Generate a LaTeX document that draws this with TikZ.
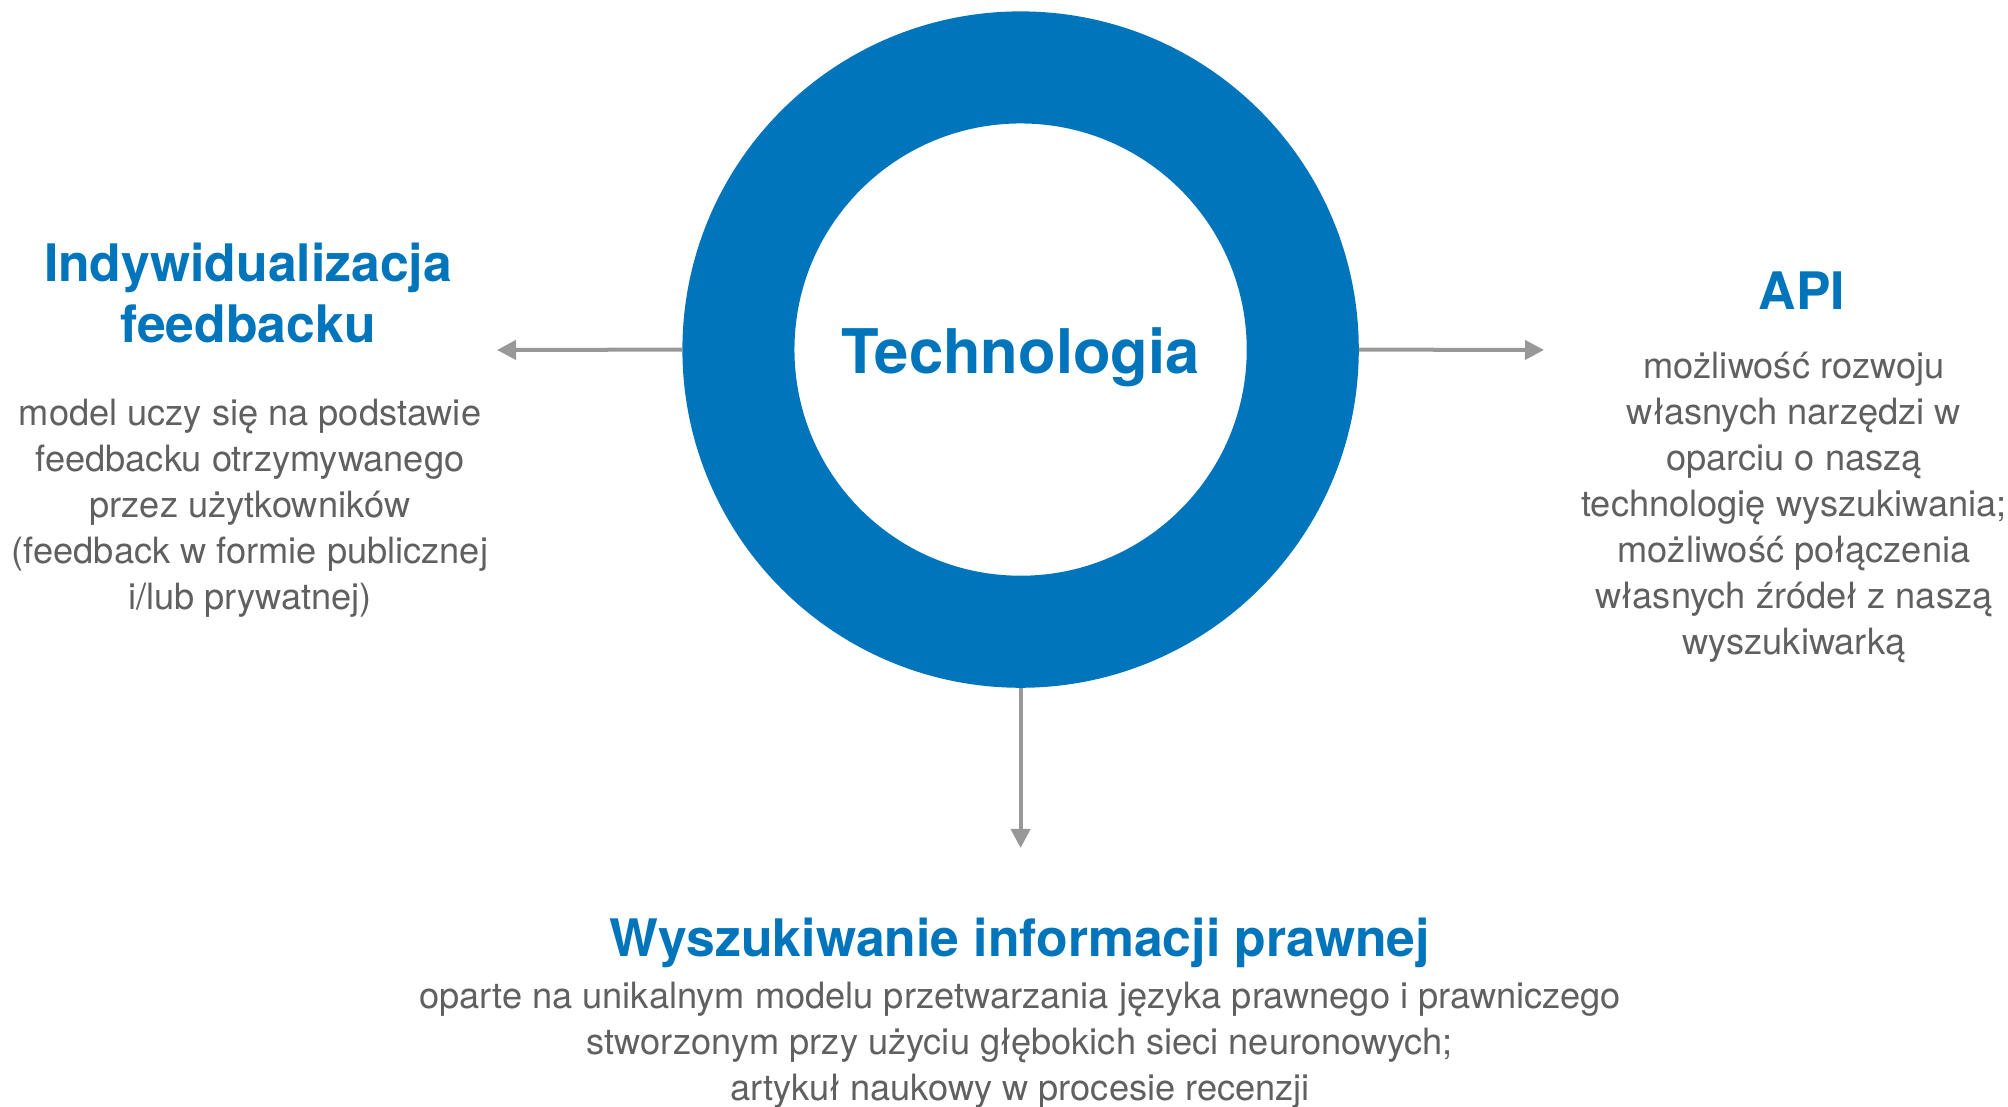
\documentclass[tikz,border=0pt]{standalone}
\usepackage{fontspec}
\setmainfont{TeX Gyre Heros}
\usetikzlibrary{arrows.meta}

\definecolor{ringblue}{RGB}{0,117,187}
\definecolor{bodygrey}{RGB}{96,96,96}
\definecolor{arrowgrey}{RGB}{152,152,152}

\tikzset{
  heading/.style={text=ringblue, font=\fontsize{14.7}{17.6}\selectfont\bfseries, align=center, inner sep=0, anchor=base},
  bodytext/.style={text=bodygrey, font=\fontsize{10.3}{13.1}\selectfont, align=center, inner sep=0, anchor=base},
  pointer/.style={draw=arrowgrey, line width=0.04cm, -{Triangle[length=0.19cm,width=0.19cm]}}
}

\begin{document}
\begin{tikzpicture}[x=0.01cm, y=-0.01cm]
  \useasboundingbox (0,0) rectangle (2008,1107);

  % Ring in the middle
  \node[circle, draw=ringblue, line width=1.12cm, minimum size=5.64cm, inner sep=0] (ring) at (1020.6,349.6) {};
  \node[text=ringblue, font=\fontsize{17.5}{21}\selectfont\bfseries, inner sep=0, anchor=base] (tech) at (1020.6,374) {Technologia};

  % Left: feedback (base = last line)
  \node[heading] (feedback) at (248,343) {Indywidualizacja\\feedbacku};
  \node[bodytext] (feedbacktxt) at (250,610) {model uczy się na podstawie\\feedbacku otrzymywanego\\przez użytkowników\\(feedback w formie publicznej\\i/lub prywatnej)};

  % Right: API
  \node[heading] (api) at (1802,310) {API};
  \node[bodytext] (apitxt) at (1794,655) {możliwość rozwoju\\własnych narzędzi w\\oparciu o naszą\\technologię wyszukiwania;\\możliwość połączenia\\własnych źródeł z naszą\\wyszukiwarką};

  % Bottom: search
  \node[heading] (search) at (1020,957) {Wyszukiwanie informacji prawnej};
  \node[bodytext] (searchtxt) at (1020,1101) {oparte na unikalnym modelu przetwarzania języka prawnego i prawniczego\\stworzonym przy użyciu głębokich sieci neuronowych;\\artykuł naukowy w procesie recenzji};

  % Arrows out of the ring
  \coordinate (lefttip) at (497,350);
  \coordinate (righttip) at (1544,350);
  \coordinate (downtip) at (1020.6,848);
  \draw[pointer] (ring.west) -- (lefttip); % to feedback
  \draw[pointer] (ring.east) -- (righttip); % to API
  \draw[pointer] (ring.south) -- (downtip); % to search
\end{tikzpicture}
\end{document}
